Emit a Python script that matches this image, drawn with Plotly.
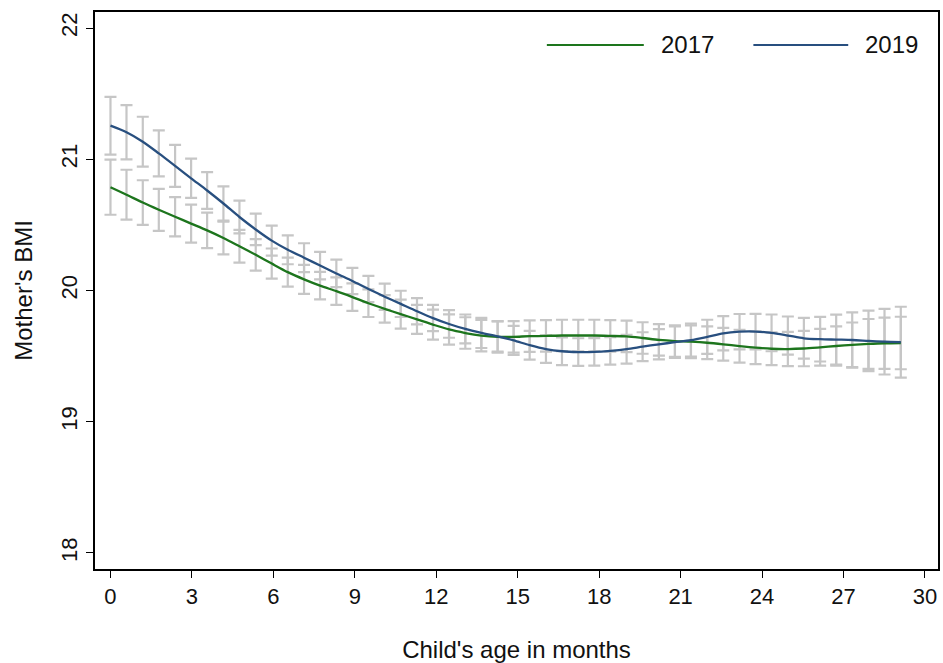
import plotly.graph_objects as go

# Grid of child's age (months) used by the local-polynomial smoother
age = [0.00, 0.59, 1.19, 1.78, 2.38, 2.97, 3.56, 4.16, 4.75, 5.35,
       5.94, 6.53, 7.13, 7.72, 8.32, 8.91, 9.50, 10.10, 10.69, 11.29,
       11.88, 12.47, 13.07, 13.66, 14.26, 14.85, 15.44, 16.04, 16.63, 17.23,
       17.82, 18.41, 19.01, 19.60, 20.20, 20.79, 21.38, 21.98, 22.57, 23.17,
       23.76, 24.35, 24.95, 25.54, 26.14, 26.73, 27.32, 27.92, 28.51, 29.11]

bmi_2017 = [20.787, 20.73, 20.67, 20.615, 20.562, 20.51, 20.458, 20.40, 20.337, 20.272,
            20.205, 20.14, 20.085, 20.037, 19.995, 19.95, 19.903, 19.86, 19.82, 19.78,
            19.74, 19.703, 19.676, 19.656, 19.646, 19.647, 19.652, 19.654, 19.657, 19.657,
            19.657, 19.654, 19.65, 19.638, 19.624, 19.615, 19.61, 19.602, 19.59, 19.576,
            19.564, 19.556, 19.554, 19.558, 19.567, 19.577, 19.586, 19.593, 19.598, 19.60]

ci_2017 = [0.21, 0.19, 0.17, 0.16, 0.15, 0.145, 0.135, 0.125, 0.125, 0.12,
           0.115, 0.11, 0.11, 0.105, 0.105, 0.105, 0.105, 0.105, 0.11, 0.11,
           0.115, 0.115, 0.12, 0.12, 0.12, 0.12, 0.12, 0.12, 0.12, 0.12,
           0.12, 0.12, 0.12, 0.12, 0.12, 0.12, 0.125, 0.125, 0.125, 0.125,
           0.125, 0.125, 0.13, 0.135, 0.14, 0.15, 0.17, 0.19, 0.195, 0.20]

bmi_2019 = [21.256, 21.206, 21.134, 21.045, 20.95, 20.855, 20.762, 20.663, 20.56, 20.465,
            20.38, 20.31, 20.25, 20.19, 20.13, 20.073, 20.012, 19.953, 19.898, 19.842,
            19.79, 19.745, 19.707, 19.677, 19.65, 19.62, 19.583, 19.553, 19.537, 19.531,
            19.532, 19.54, 19.553, 19.572, 19.59, 19.606, 19.622, 19.647, 19.674, 19.686,
            19.687, 19.677, 19.657, 19.636, 19.629, 19.626, 19.623, 19.616, 19.61, 19.606]

ci_2019 = [0.22, 0.207, 0.19, 0.175, 0.16, 0.15, 0.14, 0.13, 0.125, 0.12,
           0.115, 0.11, 0.11, 0.105, 0.105, 0.10, 0.10, 0.10, 0.10, 0.10,
           0.10, 0.105, 0.11, 0.115, 0.115, 0.11, 0.11, 0.105, 0.105, 0.105,
           0.105, 0.105, 0.11, 0.11, 0.115, 0.12, 0.125, 0.13, 0.13, 0.135,
           0.135, 0.14, 0.145, 0.155, 0.17, 0.19, 0.21, 0.23, 0.25, 0.27]

x_ticks = [0, 3, 6, 9, 12, 15, 18, 21, 24, 27, 30]
y_ticks = [18, 19, 20, 21, 22]
series_names = ["2017", "2019"]

GREEN = "#1d751d"
BLUE = "#284f7f"
GREY = "#c6c6c6"
FONT = "Liberation Sans, Arial, sans-serif"

fig = go.Figure()

for vals, ci in [(bmi_2017, ci_2017), (bmi_2019, ci_2019)]:
    fig.add_trace(go.Scatter(
        x=age, y=vals, mode="markers",
        marker=dict(size=1, opacity=0),
        error_y=dict(type="data", array=ci, visible=True,
                     color=GREY, thickness=2.2, width=6),
        showlegend=False, hoverinfo="skip"))

for vals, col, name in [(bmi_2017, GREEN, series_names[0]), (bmi_2019, BLUE, series_names[1])]:
    fig.add_trace(go.Scatter(
        x=age, y=vals, mode="lines", name=name,
        line=dict(color=col, width=2.3, shape="spline", smoothing=0.8),
        showlegend=False))

# legend drawn as keys + text (Stata-style long keys)
legend_items = [(GREEN, series_names[0], 0.536, 0.651, 0.669),
                (BLUE, series_names[1], 0.781, 0.8935, 0.9113)]
for col, name, x0, x1, xt in legend_items:
    fig.add_shape(type="line", xref="paper", yref="paper",
                  x0=x0, x1=x1, y0=0.9408, y1=0.9408,
                  line=dict(color=col, width=2))
    fig.add_annotation(xref="paper", yref="paper", x=xt, y=0.9408,
                       text=name, showarrow=False, xanchor="left", yanchor="middle",
                       font=dict(size=24, color="#111111", family=FONT))

axis_common = dict(showline=True, linecolor="black", linewidth=1.5, mirror=True,
                   ticks="outside", ticklen=7, tickwidth=1.2, tickcolor="black",
                   showgrid=False, zeroline=False,
                   tickfont=dict(size=22, color="#111111", family=FONT))

fig.update_xaxes(range=[-0.57, 30.48], tickvals=x_ticks,
                 title=dict(text="Child's age in months", standoff=34,
                            font=dict(size=24, color="#111111", family=FONT)),
                 **axis_common)
fig.update_yaxes(range=[17.878, 22.122], tickvals=y_ticks, tickangle=-90,
                 title=dict(text="Mother's BMI", standoff=18,
                            font=dict(size=24, color="#111111", family=FONT)),
                 **axis_common)

fig.update_layout(
    width=943, height=663,
    margin=dict(l=95, r=3, t=12, b=94),
    paper_bgcolor="white", plot_bgcolor="white",
    font=dict(family=FONT),
)

fig.write_html("out.html")
